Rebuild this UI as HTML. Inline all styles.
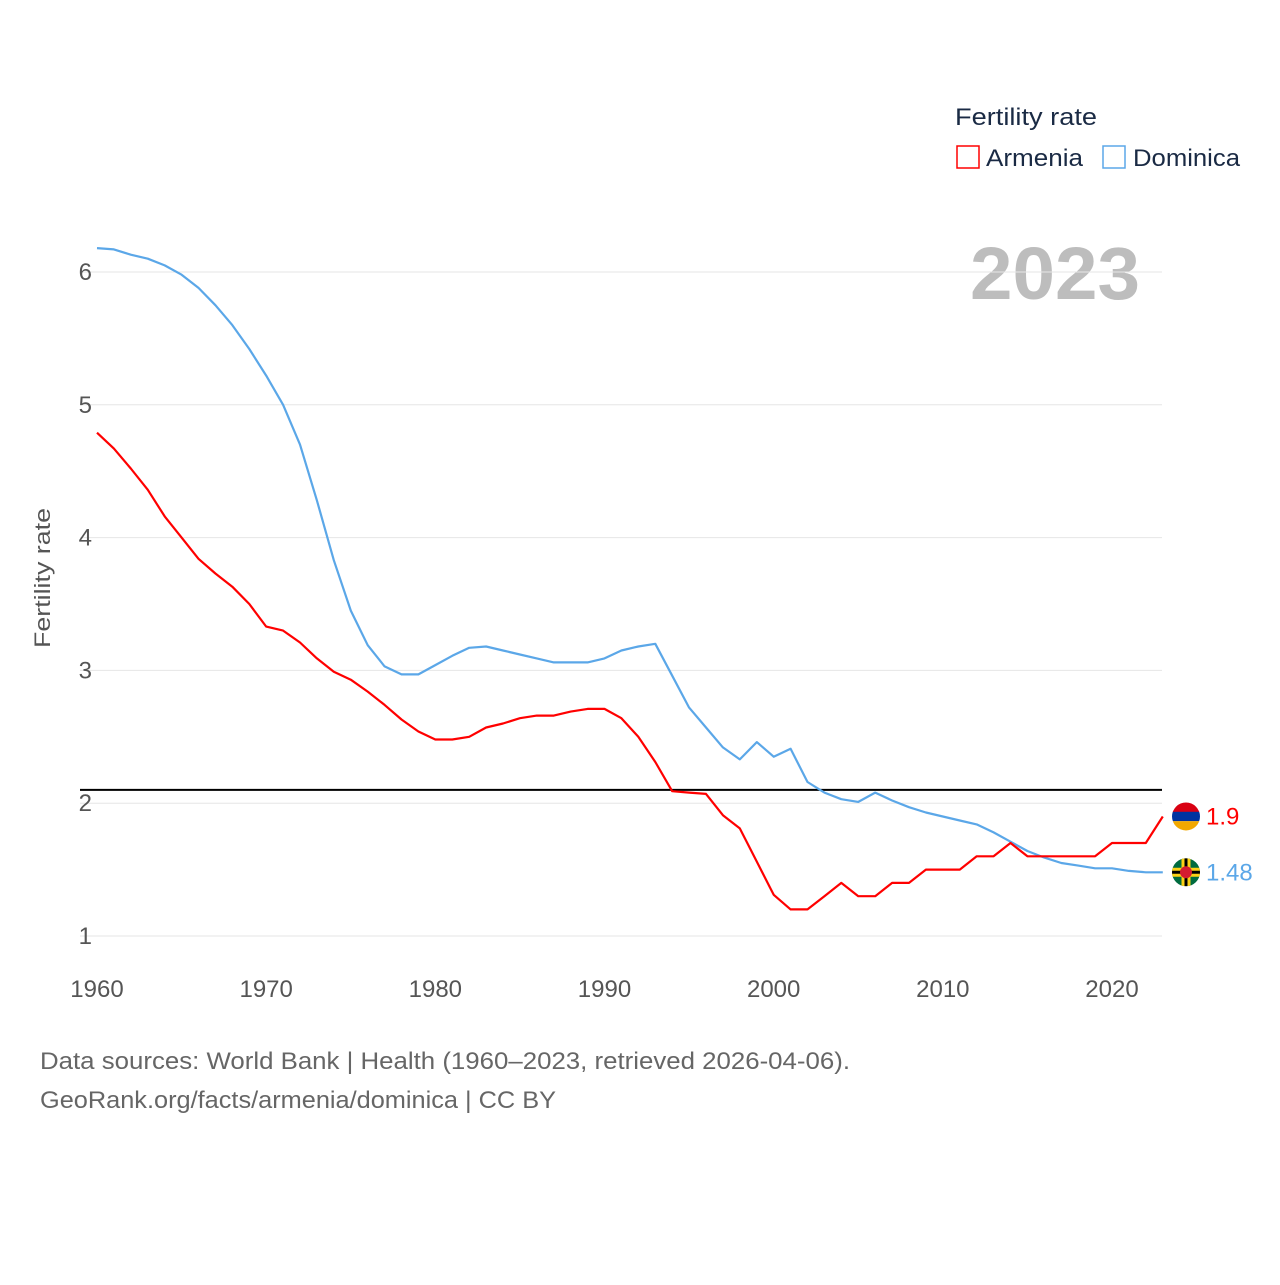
<!DOCTYPE html>
<html><head><meta charset="utf-8">
<style>
body{margin:0;background:#fff;width:1280px;height:1280px;overflow:hidden;font-family:"Liberation Sans",sans-serif;}
svg text{font-family:"Liberation Sans",sans-serif;}
</style></head>
<body>
<svg id="chart" width="1280" height="1280" xmlns="http://www.w3.org/2000/svg">
  <text x="955" y="125" font-size="24" fill="#1a2a44" textLength="142" lengthAdjust="spacingAndGlyphs">Fertility rate</text>
  <g>
    <rect x="957" y="146" width="22" height="22" fill="none" stroke="#ff0000" stroke-width="1.5"/>
    <text x="986" y="166" font-size="24" fill="#1a2a44" textLength="97" lengthAdjust="spacingAndGlyphs">Armenia</text>
  </g>
  <g>
    <rect x="1103" y="146" width="22" height="22" fill="none" stroke="#5ba7e8" stroke-width="1.5"/>
    <text x="1133" y="166" font-size="24" fill="#1a2a44" textLength="107" lengthAdjust="spacingAndGlyphs">Dominica</text>
  </g>
  <text x="970" y="299" font-size="74" font-weight="bold" fill="#bdbdbd" textLength="170" lengthAdjust="spacingAndGlyphs">2023</text>
  <text transform="translate(50,578) rotate(-90)" font-size="22" fill="#555" text-anchor="middle" textLength="140" lengthAdjust="spacingAndGlyphs">Fertility rate</text>
  <g id="grid"></g><g id="yticks"></g><g id="xticks"></g>
  <line id="ref" stroke="#000" stroke-width="2"/>
  <g id="series"></g>
  <text x="40" y="1069" font-size="24" fill="#666" textLength="810" lengthAdjust="spacingAndGlyphs">Data sources: World Bank | Health (1960–2023, retrieved 2026-04-06).</text>
  <text x="40" y="1108" font-size="24" fill="#666" textLength="516" lengthAdjust="spacingAndGlyphs">GeoRank.org/facts/armenia/dominica | CC BY</text>
</svg>
<script>
const years=[];for(let y=1960;y<=2023;y++)years.push(y);
const armenia=[4.79,4.67,4.52,4.36,4.16,4.00,3.84,3.73,3.63,3.50,3.33,3.30,3.21,3.09,2.99,2.93,2.84,2.74,2.63,2.54,2.48,2.48,2.50,2.57,2.60,2.64,2.66,2.66,2.69,2.71,2.71,2.64,2.50,2.31,2.09,2.08,2.07,1.91,1.81,1.56,1.31,1.20,1.20,1.30,1.40,1.30,1.30,1.40,1.40,1.50,1.50,1.50,1.60,1.60,1.70,1.60,1.60,1.60,1.60,1.60,1.70,1.70,1.70,1.90];
const dominica=[6.18,6.17,6.13,6.10,6.05,5.98,5.88,5.75,5.60,5.42,5.22,5.00,4.70,4.28,3.83,3.45,3.19,3.03,2.97,2.97,3.04,3.11,3.17,3.18,3.15,3.12,3.09,3.06,3.06,3.06,3.09,3.15,3.18,3.20,2.96,2.72,2.57,2.42,2.33,2.46,2.35,2.41,2.16,2.08,2.03,2.01,2.08,2.02,1.97,1.93,1.90,1.87,1.84,1.78,1.71,1.64,1.59,1.55,1.53,1.51,1.51,1.49,1.48,1.48];
const yTicks=[1,2,3,4,5,6];
const xTicks=[1960,1970,1980,1990,2000,2010,2020];
const refValue=2.1;
const NS="http://www.w3.org/2000/svg";
const xs=y=>97+(y-1960)*(1112-97)/60;
const ys=v=>936-(v-1)*132.8;
function el(tag,attrs,parent){const e=document.createElementNS(NS,tag);for(const k in attrs)e.setAttribute(k,attrs[k]);parent.appendChild(e);return e;}
const grid=document.getElementById('grid'),yt=document.getElementById('yticks'),xt=document.getElementById('xticks'),ser=document.getElementById('series');
yTicks.forEach(v=>{
  const l=el('line',{x1:80,x2:1162,y1:ys(v),y2:ys(v),stroke:'#e6e6e6','stroke-width':1},grid);
  
  
  const t=el('text',{x:92,y:ys(v)+8,'font-size':24,fill:'#555','text-anchor':'end'},yt);
  t.textContent=v;
  
  
});
xTicks.forEach(v=>{
  const t=el('text',{x:xs(v),y:997,'font-size':24,fill:'#555','text-anchor':'middle'},xt);
  t.textContent=v;
  
  
});
const ref=document.getElementById('ref');
ref.setAttribute('x1',80);ref.setAttribute('x2',1162);ref.setAttribute('y1',ys(refValue));ref.setAttribute('y2',ys(refValue));
function line(data,color,name){
  const d=data.map((v,i)=>(i?'L':'M')+xs(years[i]).toFixed(1)+','+ys(v).toFixed(1)).join('');
  const p=el('path',{d:d,fill:'none',stroke:color,'stroke-width':2.2,'stroke-linejoin':'round'},ser);
  
  
}
line(dominica,'#5ba7e8','dominica-line');
line(armenia,'#ff0000','armenia-line');
const cx=1186;
const aY=ys(armenia[armenia.length-1]), dY=ys(dominica[dominica.length-1]);
const defs=el('defs',{},ser);
const c1=el('clipPath',{id:'ca'},defs);el('circle',{cx:cx,cy:aY,r:14},c1);
const c2=el('clipPath',{id:'cd'},defs);el('circle',{cx:cx,cy:dY,r:14},c2);
const fa=el('g',{'clip-path':'url(#ca)'},ser);


el('rect',{x:cx-14,y:aY-14,width:28,height:10,fill:'#d90012'},fa);
el('rect',{x:cx-14,y:aY-4.7,width:28,height:9.4,fill:'#0033a0'},fa);
el('rect',{x:cx-14,y:aY+4.7,width:28,height:10,fill:'#f2a800'},fa);
const fd=el('g',{'clip-path':'url(#cd)'},ser);


el('rect',{x:cx-14,y:dY-14,width:28,height:28,fill:'#006b3f'},fd);
el('rect',{x:cx-4.5,y:dY-14,width:9,height:28,fill:'#fcd116'},fd);
el('rect',{x:cx-14,y:dY-4.5,width:28,height:9,fill:'#fcd116'},fd);
el('rect',{x:cx-1.5,y:dY-14,width:3,height:28,fill:'#000'},fd);
el('rect',{x:cx-14,y:dY-1.5,width:28,height:3,fill:'#000'},fd);
el('circle',{cx:cx,cy:dY,r:6,fill:'#d41c30'},fd);
const la=el('text',{x:1206,y:aY+8,'font-size':24,fill:'#ff0000'},ser);
la.textContent=armenia[armenia.length-1];


const ld=el('text',{x:1206,y:dY+8,'font-size':24,fill:'#5ba7e8'},ser);
ld.textContent=dominica[dominica.length-1];


</script>
</body></html>
